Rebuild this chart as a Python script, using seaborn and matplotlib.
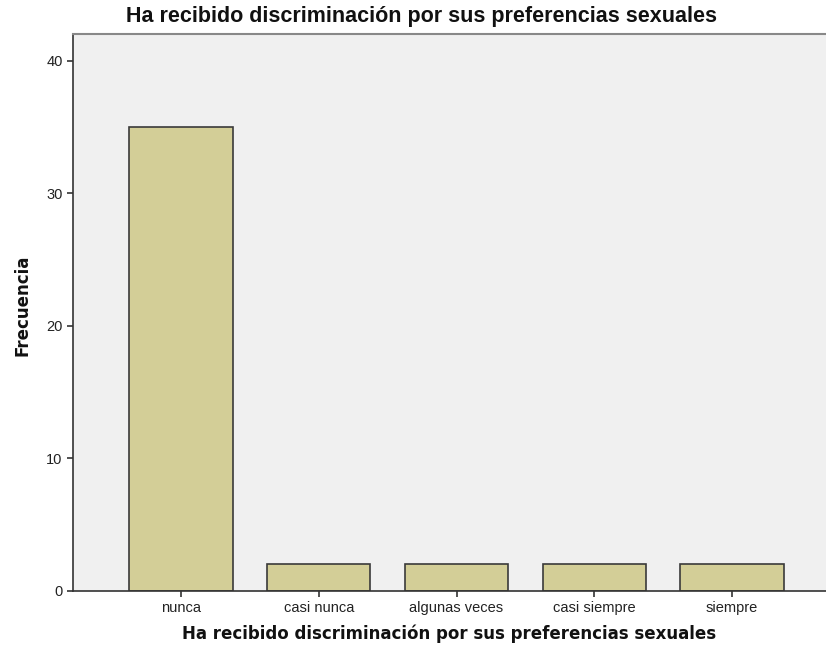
import matplotlib
matplotlib.use("Agg")
import matplotlib.pyplot as plt
import seaborn as sns
import pandas as pd

categories = ["nunca", "casi nunca", "algunas veces", "casi siempre", "siempre"]
counts = [35, 2, 2, 2, 2]
yticks = [0, 10, 20, 30, 40]
title = "Ha recibido discriminación por sus preferencias sexuales"
ylabel = "Frecuencia"

sns.set_theme(style="white")
plt.rcParams["font.family"] = ["Liberation Sans", "DejaVu Sans"]

W, H = 826, 653
fig = plt.figure(figsize=(W / 100, H / 100), dpi=100)
left, right, top, bottom = 73, 826, 34, 591
ax = fig.add_axes([left / W, 1 - bottom / H, (right - left) / W, (bottom - top) / H])
ax.set_facecolor("#F0F0F0")

df = pd.DataFrame({"cat": categories, "n": counts})
sns.barplot(data=df, x="cat", y="n", order=categories, width=0.75,
            color="#D3CE97", saturation=1, edgecolor="#3a3a3a", linewidth=1.2, ax=ax)

ax.set_xlim(-0.784, 4.682)
ax.set_ylim(0, 42)
ax.set_yticks(yticks)
ax.set_xlabel("")
ax.set_ylabel("")

for s in ["left", "bottom"]:
    ax.spines[s].set_color("#333333")
    ax.spines[s].set_linewidth(1.2)
ax.spines["top"].set_color("#888888")
ax.spines["top"].set_linewidth(1.5)
ax.spines["right"].set_visible(False)

ax.tick_params(axis="both", which="major", direction="out", length=4.5, width=1.2,
               color="#333333", labelsize=10.5, labelcolor="#222222",
               bottom=True, left=True, pad=3)

fig.text(421 / W, 1 - 22 / H, title, ha="center", va="baseline",
         fontsize=15.5, fontweight="bold", color="#111111")
fig.text(449.5 / W, 1 - 639 / H, title, ha="center", va="baseline",
         fontsize=12, fontweight="bold", family="DejaVu Sans", color="#111111")
fig.text(23 / W, 1 - 305 / H, ylabel, ha="center", va="center", rotation=90,
         fontsize=12, fontweight="bold", family="DejaVu Sans", color="#111111")

fig.savefig("out.png", dpi=100)
